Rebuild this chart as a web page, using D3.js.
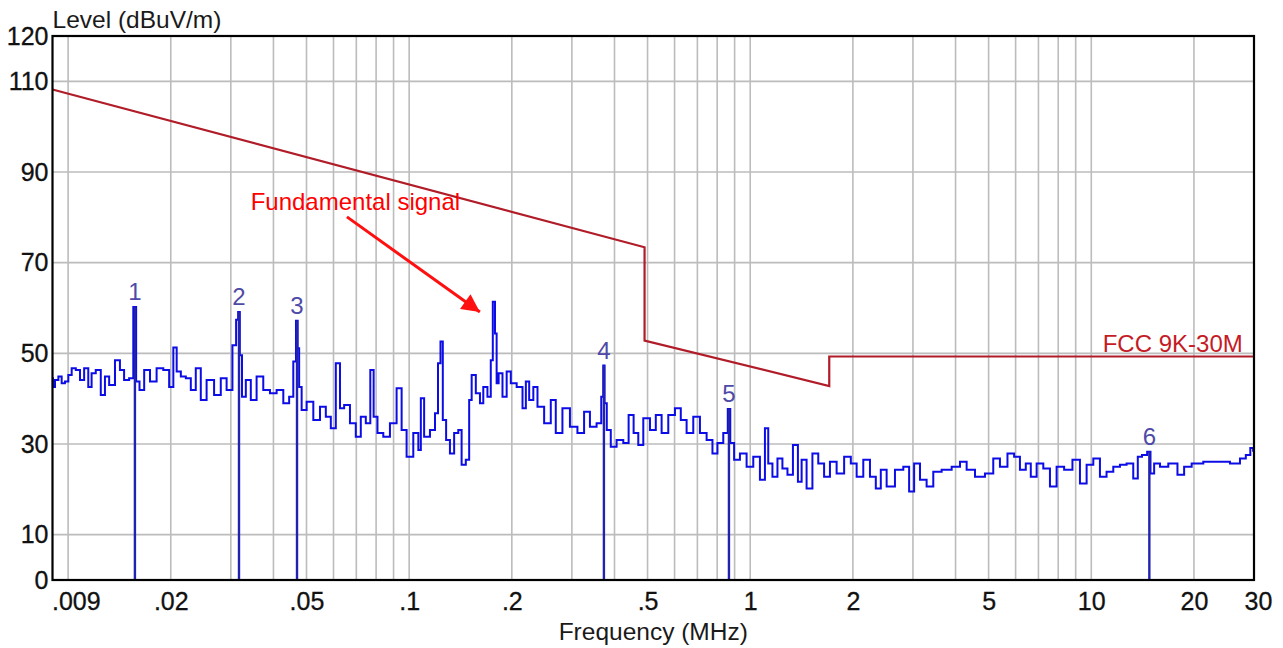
<!DOCTYPE html>
<html>
<head>
<meta charset="utf-8">
<script src="https://cdn.jsdelivr.net/npm/d3@7"></script>
<style>
  body { margin: 0; background: #fff; }
  svg { display: block; }
  text { font-family: Arial, "Liberation Sans", sans-serif; }
</style>
</head>
<body>
<div id="chart"></div>
<script>
// measured trace: [frequency MHz, level dBuV/m]
const trace = [
  [0.009, 44.5], [0.00905, 42.6], [0.00926, 44.1], [0.00947, 44.9], [0.00968, 43.4], [0.0099, 43.8],
  [0.01013, 45.2], [0.01036, 46.7], [0.01071, 46.3], [0.01096, 44.1], [0.01133, 46.7], [0.01159, 42.6],
  [0.01185, 45.6], [0.01226, 46.3], [0.01268, 40.8], [0.01297, 44.9], [0.01342, 43.0], [0.01403, 48.5],
  [0.01435, 46.3], [0.01484, 44.1], [0.01536, 44.5], [0.01596, 43.8], [0.01643, 41.9], [0.0170, 46.3],
  [0.01777, 43.8], [0.01859, 46.7], [0.01945, 46.3], [0.02012, 42.6], [0.02058, 51.3], [0.02105, 46.0],
  [0.02177, 44.9], [0.02252, 44.5], [0.02328, 41.9], [0.02408, 46.7], [0.02491, 39.7], [0.02605, 44.1],
  [0.02756, 40.8], [0.02851, 44.5], [0.02982, 41.9], [0.03084, 51.8], [0.03134, 57.4], [0.03205, 49.6],
  [0.03264, 40.4], [0.03376, 44.1], [0.03491, 39.7], [0.03651, 44.9], [0.0382, 41.9], [0.03996, 41.2],
  [0.0418, 41.9], [0.04373, 39.0], [0.04523, 40.4], [0.04625, 48.2], [0.04731, 51.1], [0.04785, 42.6],
  [0.04893, 37.5], [0.05119, 39.3], [0.05355, 35.3], [0.05601, 38.2], [0.05794, 36.0], [0.05992, 33.5],
  [0.06198, 47.8], [0.06339, 37.9], [0.06556, 38.6], [0.06858, 34.6], [0.07093, 31.6], [0.07337, 36.0],
  [0.0759, 34.6], [0.07797, 46.3], [0.07939, 36.0], [0.08211, 32.4], [0.08588, 31.6], [0.08982, 34.6],
  [0.09397, 42.3], [0.09612, 33.1], [0.1005, 27.2], [0.1052, 32.4], [0.1076, 28.7], [0.1088, 40.1],
  [0.1125, 31.6], [0.1177, 33.1], [0.1204, 36.8], [0.1226, 47.8], [0.1245, 52.6], [0.1265, 35.3],
  [0.1302, 30.9], [0.1332, 27.9], [0.1378, 32.4], [0.1409, 33.1], [0.1441, 25.4], [0.1491, 26.5],
  [0.1508, 39.7], [0.1542, 45.2], [0.1595, 41.2], [0.1631, 39.0], [0.1668, 42.6], [0.1725, 40.4],
  [0.1745, 48.5], [0.1773, 61.4], [0.1797, 54.4], [0.1813, 43.4], [0.1846, 45.6], [0.191, 40.4],
  [0.1953, 46.0], [0.202, 43.4], [0.2114, 42.6], [0.2186, 37.9], [0.2211, 43.8], [0.2287, 39.7],
  [0.2338, 42.6], [0.2419, 38.2], [0.2558, 34.6], [0.2646, 39.7], [0.2736, 32.4], [0.2895, 37.9],
  [0.3028, 33.8], [0.3203, 32.4], [0.3313, 37.1], [0.3466, 33.8], [0.3625, 34.6], [0.3691, 40.4],
  [0.3758, 39.0], [0.3836, 33.1], [0.3967, 29.4], [0.415, 30.9], [0.4341, 30.2], [0.446, 36.4],
  [0.4644, 32.4], [0.475, 29.8], [0.4969, 35.7], [0.5198, 33.1], [0.5376, 36.4], [0.5623, 32.4],
  [0.5882, 36.4], [0.6153, 37.9], [0.6364, 35.3], [0.6657, 32.4], [0.6963, 36.0], [0.7284, 32.4],
  [0.762, 30.9], [0.7882, 27.9], [0.8151, 30.2], [0.8527, 32.4], [0.8819, 30.2], [0.9123, 26.5],
  [0.9541, 27.9], [0.9982, 25.0], [1.044, 27.2], [1.092, 22.1], [1.117, 33.5], [1.142, 25.7],
  [1.182, 22.8], [1.222, 26.8], [1.264, 24.6], [1.308, 23.2], [1.361, 29.8], [1.399, 21.7],
  [1.431, 26.5], [1.496, 20.2], [1.548, 27.9], [1.619, 25.7], [1.675, 22.8], [1.752, 26.1],
  [1.833, 23.5], [1.939, 27.2], [2.006, 25.7], [2.098, 22.8], [2.194, 26.5], [2.296, 22.8],
  [2.374, 20.2], [2.456, 24.3], [2.569, 20.6], [2.748, 24.3], [2.875, 25.0], [2.973, 19.5],
  [3.076, 25.7], [3.217, 22.1], [3.365, 20.6], [3.52, 23.9], [3.767, 24.3], [4.03, 25.0],
  [4.215, 26.1], [4.409, 24.3], [4.717, 22.8], [5.045, 23.5], [5.277, 26.8], [5.521, 25.0],
  [5.841, 27.9], [6.04, 27.2], [6.318, 24.3], [6.536, 25.7], [6.761, 22.8], [7.072, 25.7],
  [7.398, 24.6], [7.737, 20.6], [8.094, 25.0], [8.563, 24.3], [9.057, 26.5], [9.475, 21.3],
  [9.911, 25.4], [10.37, 26.8], [10.84, 22.8], [11.34, 23.9], [11.87, 25.0], [12.41, 25.4],
  [12.98, 25.7], [13.58, 22.4], [13.8, 27.2], [14.37, 27.6], [15.03, 23.5], [15.55, 25.7],
  [16.26, 25.0], [17.4, 25.7], [18.4, 23.2], [19.04, 25.0], [20.37, 25.7], [22.28, 26.1],
  [24.38, 26.1], [26.68, 25.7], [27.91, 26.8], [28.87, 27.6], [29.66, 29.1], [30, 28.5]
];

// peak markers: [frequency MHz, level, label]
const markers = [
  [0.0157, 60.2, "1"], [0.0317, 59.1, "2"], [0.0469, 57.2, "3"],
  [0.3724, 47.3, "4"], [0.8662, 37.7, "5"], [14.8, 28.3, "6"]
];

// FCC limit line
const limitFreq = [0.009, 0.49, 0.49, 1.705, 1.705, 30];
const limitLevel = [108.2, 73.4, 52.8, 42.8, 49.3, 49.3];

const xTickValues = [0.009, 0.02, 0.05, 0.1, 0.2, 0.5, 1, 2, 5, 10, 20, 30];
const xTickLabels = [".009", ".02", ".05", ".1", ".2", ".5", "1", "2", "5", "10", "20", "30"];
const yTickValues = [0, 10, 30, 50, 70, 90, 110, 120];
const yGridValues = [10, 30, 50, 70, 90, 110];

// annotation: text anchor and arrow, in data units
const noteText = "Fundamental signal";
const noteAt = [0.0343, 81.6];
const arrowFrom = [0.0657, 80.1];
const arrowTo = [0.1612, 59.1];

const width = 1283;
const height = 648;
const font = "Arial, 'Liberation Sans', sans-serif";

const svg = d3.select("#chart")
  .append("svg")
  .attr("width", width)
  .attr("height", height);

const x = d3.scaleLog().domain([0.009, 30]).range([52.5, 1254]);
const y = d3.scaleLinear().domain([0, 120]).range([580, 36]);

// grid
svg.append("g")
  .selectAll("line")
  .data(x.ticks().filter(d => d > 0.0091 && d < 29.9))
  .enter()
  .append("line")
  .attr("x1", d => x(d)).attr("x2", d => x(d))
  .attr("y1", y(120)).attr("y2", y(0))
  .attr("stroke", "#bcbcbc")
  .attr("stroke-width", 1.6);

svg.append("g")
  .selectAll("line")
  .data(yGridValues)
  .enter()
  .append("line")
  .attr("x1", x(0.009)).attr("x2", x(30))
  .attr("y1", d => y(d)).attr("y2", d => y(d))
  .attr("stroke", "#bcbcbc")
  .attr("stroke-width", 1.6);

// limit
const limitData = limitFreq.map((f, i) => [f, limitLevel[i]]);
svg.append("path")
  .datum(limitData)
  .attr("fill", "none")
  .attr("stroke", "#b01c28")
  .attr("stroke-width", 2.2)
  .attr("d", d3.line().x(d => x(d[0])).y(d => y(d[1])));

svg.append("text")
  .attr("x", x(27.8))
  .attr("y", y(limitLevel[5]) - 5)
  .attr("text-anchor", "end")
  .attr("font-size", 24)
  .attr("fill", "#c41c26")
  .text("FCC 9K-30M");

// trace with marker peaks merged in
const traceAll = trace.concat(markers.map(m => [m[0], m[1]])).sort((a, b) => a[0] - b[0]);
svg.append("path")
  .datum(traceAll)
  .attr("fill", "none")
  .attr("stroke", "#0c0ce6")
  .attr("stroke-width", 2)
  .attr("d", d3.line().curve(d3.curveStep).x(d => x(d[0])).y(d => y(d[1])));

// markers
svg.append("g")
  .selectAll("line")
  .data(markers)
  .enter()
  .append("line")
  .attr("x1", d => x(d[0])).attr("x2", d => x(d[0]))
  .attr("y1", d => y(d[1])).attr("y2", y(0))
  .attr("stroke", "#2222b0")
  .attr("stroke-width", 2.4);

svg.append("g")
  .selectAll("text")
  .data(markers)
  .enter()
  .append("text")
  .attr("x", d => x(d[0]))
  .attr("y", d => y(d[1]) - 7)
  .attr("text-anchor", "middle")
  .attr("font-size", 24)
  .attr("fill", "#4f4aa8")
  .text(d => d[2]);

// frame
svg.append("rect")
  .attr("x", x(0.009)).attr("y", y(120))
  .attr("width", x(30) - x(0.009))
  .attr("height", y(0) - y(120))
  .attr("fill", "none")
  .attr("stroke", "#000")
  .attr("stroke-width", 2.2);

// axes
const xAxis = svg.append("g")
  .attr("transform", `translate(0,${y(0)})`)
  .call(d3.axisBottom(x)
    .tickValues(xTickValues)
    .tickFormat((d, i) => xTickLabels[i])
    .tickSize(0)
    .tickPadding(12));
xAxis.select(".domain").remove();
xAxis.selectAll("text")
  .attr("font-size", 25)
  .attr("font-family", font)
  .attr("fill", "#111")
  .attr("stroke", "#111")
  .attr("stroke-width", 0.3);
xAxis.selectAll(".tick text").filter((d, i) => i === 0).attr("text-anchor", "start").attr("dx", -1);
xAxis.selectAll(".tick text").filter((d, i) => i === xTickValues.length - 1).attr("dx", 4);

const yAxis = svg.append("g")
  .attr("transform", `translate(${x(0.009)},0)`)
  .call(d3.axisLeft(y)
    .tickValues(yTickValues)
    .tickSize(0)
    .tickPadding(4));
yAxis.select(".domain").remove();
yAxis.selectAll("text")
  .attr("font-size", 25)
  .attr("font-family", font)
  .attr("fill", "#111")
  .attr("stroke", "#111")
  .attr("stroke-width", 0.3);

svg.append("text")
  .attr("x", x(0.009))
  .attr("y", 28)
  .attr("font-size", 24.5)
  .attr("fill", "#1a1a1a")
  .text("Level (dBuV/m)");

svg.append("text")
  .attr("x", (x(0.009) + x(30)) / 2)
  .attr("y", 640)
  .attr("text-anchor", "middle")
  .attr("font-size", 24.5)
  .attr("fill", "#1a1a1a")
  .text("Frequency (MHz)");

// annotation
svg.append("defs").append("marker")
  .attr("id", "arrowhead")
  .attr("viewBox", "0 0 10 10")
  .attr("refX", 10).attr("refY", 5)
  .attr("markerWidth", 7.5).attr("markerHeight", 6)
  .attr("markerUnits", "strokeWidth")
  .attr("orient", "auto")
  .append("path")
  .attr("d", "M0,0 L10,5 L0,10 Z")
  .attr("fill", "#ff1010");

svg.append("line")
  .attr("x1", x(arrowFrom[0])).attr("y1", y(arrowFrom[1]))
  .attr("x2", x(arrowTo[0])).attr("y2", y(arrowTo[1]))
  .attr("stroke", "#ff1010")
  .attr("stroke-width", 3)
  .attr("marker-end", "url(#arrowhead)");

svg.append("text")
  .attr("x", x(noteAt[0]))
  .attr("y", y(noteAt[1]))
  .attr("font-size", 24)
  .attr("fill", "#ff0000")
  .text(noteText);
</script>
</body>
</html>
